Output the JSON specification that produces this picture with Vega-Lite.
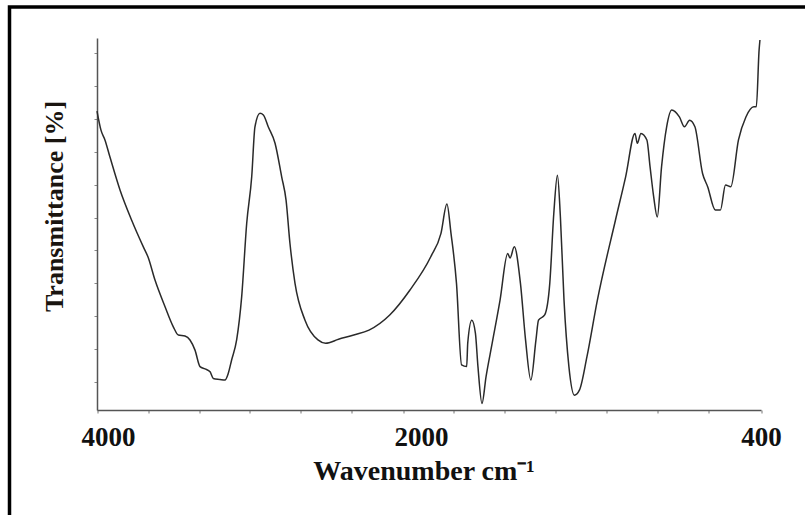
{
  "$schema": "https://vega.github.io/schema/vega-lite/v6.json",
  "width": 800,
  "height": 515,
  "autosize": "none",
  "padding": {"left": 9.5, "top": 7, "right": 0, "bottom": 0},
  "background": "white",
  "view": {"stroke": "black", "strokeWidth": 3.5},
  "data": {"values": [
    {"wavenumber": 4000, "transmittance": 82.4},
    {"wavenumber": 3975, "transmittance": 76.5},
    {"wavenumber": 3951, "transmittance": 73.6},
    {"wavenumber": 3920, "transmittance": 68.4},
    {"wavenumber": 3858, "transmittance": 58.4},
    {"wavenumber": 3786, "transmittance": 49.2},
    {"wavenumber": 3714, "transmittance": 41.1},
    {"wavenumber": 3685, "transmittance": 38.0},
    {"wavenumber": 3642, "transmittance": 31.0},
    {"wavenumber": 3580, "transmittance": 22.9},
    {"wavenumber": 3529, "transmittance": 16.8},
    {"wavenumber": 3498, "transmittance": 14.3},
    {"wavenumber": 3457, "transmittance": 14.0},
    {"wavenumber": 3426, "transmittance": 12.8},
    {"wavenumber": 3395, "transmittance": 9.7},
    {"wavenumber": 3364, "transmittance": 4.7},
    {"wavenumber": 3333, "transmittance": 4.0},
    {"wavenumber": 3302, "transmittance": 3.1},
    {"wavenumber": 3282, "transmittance": 1.1},
    {"wavenumber": 3241, "transmittance": 0.8},
    {"wavenumber": 3210, "transmittance": 0.6},
    {"wavenumber": 3190, "transmittance": 2.6},
    {"wavenumber": 3169, "transmittance": 6.7},
    {"wavenumber": 3138, "transmittance": 12.8},
    {"wavenumber": 3107, "transmittance": 25.9},
    {"wavenumber": 3076, "transmittance": 48.2},
    {"wavenumber": 3045, "transmittance": 62.4},
    {"wavenumber": 3025, "transmittance": 77.6},
    {"wavenumber": 2994, "transmittance": 81.7},
    {"wavenumber": 2973, "transmittance": 81.2},
    {"wavenumber": 2943, "transmittance": 77.6},
    {"wavenumber": 2901, "transmittance": 72.6},
    {"wavenumber": 2860, "transmittance": 62.4},
    {"wavenumber": 2833, "transmittance": 55.3},
    {"wavenumber": 2809, "transmittance": 42.2},
    {"wavenumber": 2778, "transmittance": 30.1},
    {"wavenumber": 2716, "transmittance": 18.8},
    {"wavenumber": 2636, "transmittance": 12.8},
    {"wavenumber": 2589, "transmittance": 11.8},
    {"wavenumber": 2509, "transmittance": 13.0},
    {"wavenumber": 2415, "transmittance": 14.3},
    {"wavenumber": 2321, "transmittance": 15.8},
    {"wavenumber": 2193, "transmittance": 20.4},
    {"wavenumber": 2068, "transmittance": 28.0},
    {"wavenumber": 1954, "transmittance": 38.1},
    {"wavenumber": 1906, "transmittance": 45.2},
    {"wavenumber": 1878, "transmittance": 54.1},
    {"wavenumber": 1859, "transmittance": 45.3},
    {"wavenumber": 1833, "transmittance": 30.0},
    {"wavenumber": 1809, "transmittance": 5.2},
    {"wavenumber": 1785, "transmittance": 4.7},
    {"wavenumber": 1780, "transmittance": 11.9},
    {"wavenumber": 1761, "transmittance": 18.8},
    {"wavenumber": 1744, "transmittance": 14.9},
    {"wavenumber": 1732, "transmittance": 4.7},
    {"wavenumber": 1713, "transmittance": -6.5},
    {"wavenumber": 1694, "transmittance": 1.6},
    {"wavenumber": 1665, "transmittance": 11.8},
    {"wavenumber": 1628, "transmittance": 24.9},
    {"wavenumber": 1592, "transmittance": 39.1},
    {"wavenumber": 1581, "transmittance": 37.7},
    {"wavenumber": 1561, "transmittance": 41.1},
    {"wavenumber": 1532, "transmittance": 30.0},
    {"wavenumber": 1508, "transmittance": 12.8},
    {"wavenumber": 1483, "transmittance": 0.6},
    {"wavenumber": 1459, "transmittance": 12.8},
    {"wavenumber": 1447, "transmittance": 18.8},
    {"wavenumber": 1418, "transmittance": 20.4},
    {"wavenumber": 1394, "transmittance": 30.0},
    {"wavenumber": 1375, "transmittance": 51.3},
    {"wavenumber": 1358, "transmittance": 62.9},
    {"wavenumber": 1344, "transmittance": 50.2},
    {"wavenumber": 1327, "transmittance": 24.9},
    {"wavenumber": 1304, "transmittance": 4.7},
    {"wavenumber": 1278, "transmittance": -4.0},
    {"wavenumber": 1254, "transmittance": -2.4},
    {"wavenumber": 1219, "transmittance": 7.7},
    {"wavenumber": 1170, "transmittance": 24.9},
    {"wavenumber": 1085, "transmittance": 49.2},
    {"wavenumber": 1037, "transmittance": 62.4},
    {"wavenumber": 993, "transmittance": 75.6},
    {"wavenumber": 982, "transmittance": 72.6},
    {"wavenumber": 965, "transmittance": 75.6},
    {"wavenumber": 937, "transmittance": 73.6},
    {"wavenumber": 922, "transmittance": 65.4},
    {"wavenumber": 905, "transmittance": 56.3},
    {"wavenumber": 888, "transmittance": 50.2},
    {"wavenumber": 868, "transmittance": 65.4},
    {"wavenumber": 844, "transmittance": 77.6},
    {"wavenumber": 820, "transmittance": 82.7},
    {"wavenumber": 784, "transmittance": 80.6},
    {"wavenumber": 760, "transmittance": 77.6},
    {"wavenumber": 736, "transmittance": 79.6},
    {"wavenumber": 711, "transmittance": 77.6},
    {"wavenumber": 675, "transmittance": 63.4},
    {"wavenumber": 651, "transmittance": 59.4},
    {"wavenumber": 615, "transmittance": 52.3},
    {"wavenumber": 591, "transmittance": 52.3},
    {"wavenumber": 567, "transmittance": 59.9},
    {"wavenumber": 542, "transmittance": 59.4},
    {"wavenumber": 506, "transmittance": 73.6},
    {"wavenumber": 471, "transmittance": 80.6},
    {"wavenumber": 434, "transmittance": 83.7},
    {"wavenumber": 422, "transmittance": 83.7},
    {"wavenumber": 409, "transmittance": 100.9},
    {"wavenumber": 405, "transmittance": 104.0}
  ]},
  "mark": {"type": "line", "color": "#2a2a2a", "strokeWidth": 1.5, "interpolate": "monotone"},
  "encoding": {
    "x": {
      "field": "wavenumber",
      "type": "quantitative",
      "scale": {"domain": [4000, 2000, 400], "range": [87.5, 411.5, 751.5], "nice": false, "zero": false},
      "axis": {
        "orient": "bottom",
        "offset": -112,
        "values": [4000, 3685, 3370, 3056, 2741, 2426, 2111, 2000, 1845, 1605, 1365, 1125, 885, 645, 400],
        "format": "d",
        "labelExpr": "indexof([4000, 2000, 400], datum.value) >= 0 ? datum.label : ''",
        "tickOpacity": {"expr": "datum.value == 2000 ? 0 : 1"},
        "labelOffset": {"expr": "datum.value == 4000 ? 11 : 0"},
        "labelOverlap": false,
        "labelFlush": false,
        "labelFont": "Liberation Serif",
        "labelFontWeight": "bold",
        "labelFontSize": 27,
        "labelColor": "#111111",
        "labelPadding": 11,
        "tickSize": 3,
        "tickColor": "#777777",
        "domainColor": "#555555",
        "domainWidth": 1.5,
        "grid": false,
        "title": "Wavenumber cm⁻¹",
        "titleFont": "Liberation Serif",
        "titleFontWeight": "bold",
        "titleFontSize": 28,
        "titleColor": "#111111",
        "titleBaseline": "alphabetic",
        "titleAlign": "center",
        "titleX": 414,
        "titleY": 69
      }
    },
    "y": {
      "field": "transmittance",
      "type": "quantitative",
      "scale": {"domain": [-8.5, 104.6], "range": [403, 31], "nice": false, "zero": false},
      "axis": {
        "orient": "left",
        "offset": -87.5,
        "values": [0, 10, 20, 30, 40, 50, 60, 70, 80, 90, 100],
        "labels": false,
        "tickSize": 3,
        "tickColor": "#888888",
        "domainColor": "#555555",
        "domainWidth": 1.5,
        "grid": false,
        "title": "Transmittance [%]",
        "titleFont": "Liberation Serif",
        "titleFontWeight": "bold",
        "titleFontSize": 26,
        "titleColor": "#1a1510",
        "titleAngle": -90,
        "titleAlign": "center",
        "titleBaseline": "middle",
        "titleX": -43,
        "titleY": 199
      }
    }
  }
}
